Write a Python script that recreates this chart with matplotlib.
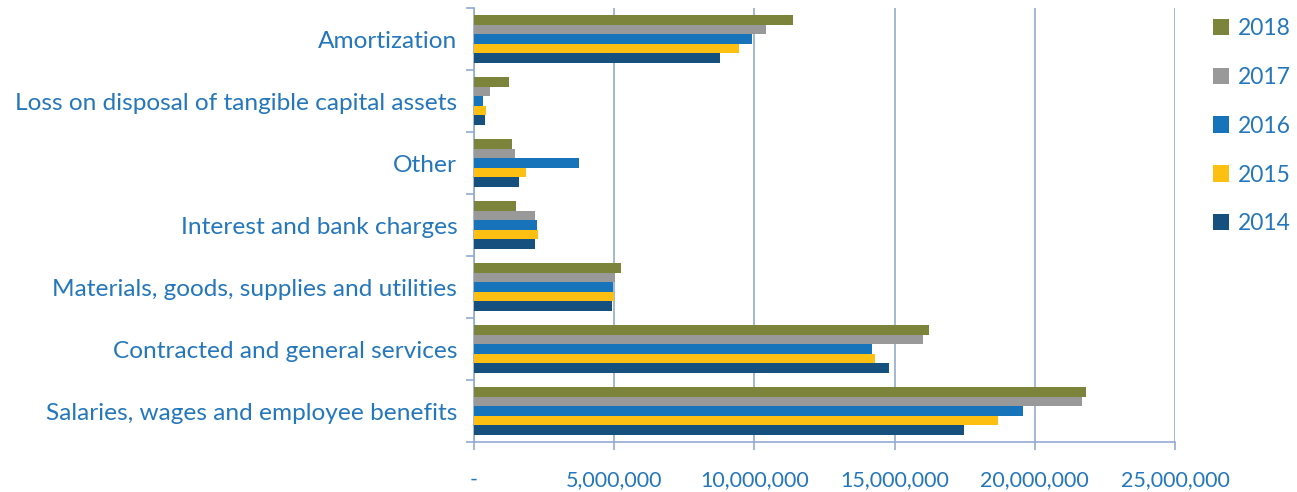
import numpy as np
import matplotlib.pyplot as plt
from matplotlib.ticker import FuncFormatter, FixedLocator

# categories from bottom to top
categories = ["Salaries, wages and employee benefits",
              "Contracted and general services",
              "Materials, goods, supplies and utilities",
              "Interest and bank charges",
              "Other",
              "Loss on disposal of tangible capital assets",
              "Amortization"]

years = ["2014", "2015", "2016", "2017", "2018"]

v2014 = [17480000, 14800000, 4920000, 2190000, 1620000, 380000, 8780000]
v2015 = [18700000, 14310000, 4990000, 2280000, 1850000, 420000, 9460000]
v2016 = [19580000, 14200000, 4950000, 2250000, 3740000, 320000, 9930000]
v2017 = [21700000, 16000000, 5030000, 2160000, 1460000, 560000, 10430000]
v2018 = [21820000, 16220000, 5260000, 1490000, 1340000, 1250000, 11370000]

colors = ["#16507E", "#FDBF12", "#1874BA", "#999999", "#7B843A"]
text_blue = "#2477BC"
grid_col = "#93AAD2"

plt.rcParams['font.family'] = ['Lato', 'DejaVu Sans']

fig = plt.figure(figsize=(12.97, 4.92), dpi=100)
ax = fig.add_axes([474 / 1297, 50 / 492, (1175 - 474) / 1297, (484 - 50) / 492])

y = np.arange(len(categories))
h = 0.155
series = [v2014, v2015, v2016, v2017, v2018]
bars = []
for i, (vals, c, yr) in enumerate(zip(series, colors, years)):
    b = ax.barh(y + (i - 2) * h, vals, height=h, color=c, label=yr, zorder=3)
    bars.append(b)

ax.set_xlim(0, 25000000)
ax.set_ylim(-0.5, len(categories) - 0.5)

ax.set_xticks(np.arange(0, 25000001, 5000000))
ax.xaxis.set_major_formatter(FuncFormatter(lambda v, p: "-" if v == 0 else f"{int(v):,}"))
ax.grid(axis='x', color=grid_col, linewidth=1.2, zorder=0)
ax.tick_params(axis='x', colors=grid_col, labelcolor=text_blue, labelsize=15.5, length=6, width=1.2, pad=14)

ax.set_yticks(y)
ax.set_yticklabels(categories)
ax.yaxis.set_minor_locator(FixedLocator(np.arange(-0.5, len(categories), 1)))
ax.tick_params(axis='y', which='major', length=0, labelcolor=text_blue, labelsize=17.6, pad=12)
ax.tick_params(axis='y', which='minor', length=6, width=1.2, color=grid_col)

for s in ['top', 'right']:
    ax.spines[s].set_visible(False)
for s in ['left', 'bottom']:
    ax.spines[s].set_color(grid_col)
    ax.spines[s].set_linewidth(1.2)

handles = bars[::-1]
leg = fig.legend(handles, years[::-1], loc='upper left', bbox_to_anchor=(1192 / 1297, 1 + 3 / 492),
                 frameon=False, fontsize=16.5, handlelength=0.7, handleheight=0.7,
                 handletextpad=0.4, labelspacing=1.22)
for t in leg.get_texts():
    t.set_color(text_blue)

fig.savefig("out.png", dpi=100)
